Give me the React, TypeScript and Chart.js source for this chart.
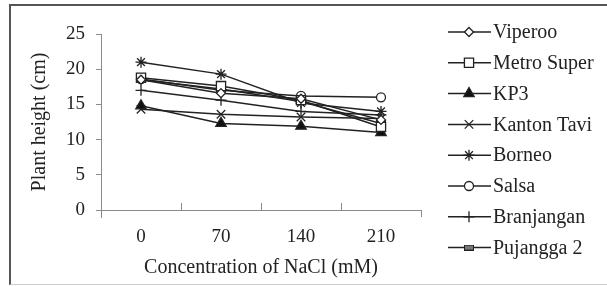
import React, { useEffect, useRef } from 'react';
import { Chart, registerables } from 'chart.js';
import { drawPoint } from 'chart.js/helpers';

Chart.register(...registerables);

const categories = ['0', '70', '140', '210'];
const seriesNames = ['Viperoo', 'Metro Super', 'KP3', 'Kanton Tavi', 'Borneo', 'Salsa', 'Branjangan', 'Pujangga 2'];
const viperoo = [18.5, 16.6, 15.8, 12.8];
const metroSuper = [18.8, 17.6, 15.6, 11.8];
const kp3 = [14.8, 12.3, 11.9, 11.0];
const kantonTavi = [14.3, 13.6, 13.2, 13.0];
const borneo = [21.0, 19.3, 15.2, 14.0];
const salsa = [18.6, 17.0, 16.2, 16.0];
const branjangan = [17.0, 15.6, 14.0, 13.5];
const pujangga2 = [18.5, 17.2, 15.4, 12.3];
const yTicks = [0, 5, 10, 15, 20, 25];

const FONT = "'Liberation Serif', 'Times New Roman', serif";
const INK = '#222';
const AXIS = '#8a8a8a';

function makeBarMarker() {
  const c = document.createElement('canvas');
  c.width = 10;
  c.height = 6;
  const g = c.getContext('2d')!;
  g.fillStyle = '#777';
  g.fillRect(0, 0, 10, 6);
  g.strokeStyle = '#222';
  g.lineWidth = 1;
  g.strokeRect(0.5, 0.5, 9, 5);
  return c;
}

const customPlugin = {
  id: 'customDecor',
  afterDraw(chart: any) {
    const ctx = chart.ctx;
    const area = chart.chartArea;
    const xs = chart.scales.x;
    ctx.save();
    ctx.strokeStyle = AXIS;
    ctx.lineWidth = 1;
    const step = xs.getPixelForValue(1) - xs.getPixelForValue(0);
    ctx.beginPath();
    for (let i = 1; i < categories.length; i++) {
      const px = Math.round(xs.getPixelForValue(i) - step / 2) + 0.5;
      ctx.moveTo(px, area.bottom);
      ctx.lineTo(px, area.bottom - 7);
    }
    const r = Math.round(area.right) + 0.5;
    ctx.moveTo(r, area.bottom);
    ctx.lineTo(r, area.bottom + 7);
    const l = Math.round(area.left) + 0.5;
    ctx.moveTo(l, area.bottom);
    ctx.lineTo(l, area.bottom + 8);
    ctx.stroke();

    // legend
    chart.data.datasets.forEach((ds: any, i: number) => {
      const y = 32 + i * 30.8;
      ctx.strokeStyle = INK;
      ctx.lineWidth = 1.5;
      ctx.beginPath();
      ctx.moveTo(448, y);
      ctx.lineTo(491, y);
      ctx.stroke();
      ctx.fillStyle = ds.pointBackgroundColor;
      ctx.strokeStyle = ds.pointBorderColor;
      ctx.lineWidth = ds.pointBorderWidth;
      drawPoint(ctx, { pointStyle: ds.pointStyle, radius: ds.pointRadius, rotation: 0, borderWidth: ds.pointBorderWidth }, 469, y);
      ctx.fillStyle = INK;
      ctx.font = `20px ${FONT}`;
      ctx.textBaseline = 'middle';
      ctx.textAlign = 'left';
      ctx.fillText(ds.label, 493, y + 1);
    });
    ctx.restore();
  },
};

export default function App() {
  const ref = useRef<HTMLCanvasElement>(null);
  useEffect(() => {
    const bar = makeBarMarker();
    const series = [viperoo, metroSuper, kp3, kantonTavi, borneo, salsa, branjangan, pujangga2];
    const styles: any[] = [
      { pointStyle: 'rectRot', pointRadius: 4.5, pointBackgroundColor: '#fff' },
      { pointStyle: 'rect', pointRadius: 6.5, pointBackgroundColor: '#fff' },
      { pointStyle: 'triangle', pointRadius: 6, pointBackgroundColor: '#111' },
      { pointStyle: 'crossRot', pointRadius: 6, pointBackgroundColor: '#fff' },
      { pointStyle: 'star', pointRadius: 5.5, pointBackgroundColor: '#fff' },
      { pointStyle: 'circle', pointRadius: 4.5, pointBackgroundColor: '#fff' },
      { pointStyle: 'cross', pointRadius: 5.5, pointBackgroundColor: '#fff' },
      { pointStyle: bar, pointRadius: 4, pointBackgroundColor: '#777' },
    ];
    const datasets = series.map((d, i) => ({
      label: seriesNames[i],
      data: d,
      borderColor: INK,
      borderWidth: 1.5,
      pointBorderColor: INK,
      pointBorderWidth: 1.3,
      pointHoverRadius: styles[i].pointRadius,
      ...styles[i],
    }));
    const chart = new Chart(ref.current!, {
      type: 'line',
      data: { labels: categories, datasets },
      options: {
        animation: false,
        responsive: false,
        maintainAspectRatio: false,
        layout: { padding: { left: 0, top: 34, right: 186, bottom: 0 } },
        plugins: { legend: { display: false }, tooltip: { enabled: false } },
        scales: {
          x: {
            type: 'category',
            offset: true,
            grid: { display: false, drawTicks: false },
            border: { display: true, color: AXIS, width: 1 },
            ticks: { color: INK, font: { family: FONT, size: 19 }, padding: 16, maxRotation: 0 },
            title: { display: true, text: 'Concentration of NaCl (mM)', color: INK, font: { family: FONT, size: 20 }, padding: { top: 0, bottom: 6 } },
            afterFit(s: any) { s.height = 76; },
          },
          y: {
            min: 0,
            max: 25,
            afterBuildTicks(s: any) { s.ticks = yTicks.map((v) => ({ value: v })); },
            grid: { display: true, drawOnChartArea: false, drawTicks: true, tickLength: 5, color: AXIS },
            border: { display: true, color: AXIS, width: 1 },
            ticks: { color: INK, font: { family: FONT, size: 19 }, padding: 11 },
            title: { display: true, text: 'Plant height (cm)', color: INK, font: { family: FONT, size: 20 }, padding: { top: 28, bottom: 0 } },
            afterFit(s: any) { s.width = 101; },
          },
        },
      },
      plugins: [customPlugin],
    });
    return () => chart.destroy();
  }, []);
  return (
    <div style={{ position: 'fixed', left: 0, top: 0, width: 607, height: 286, background: '#fff', overflow: 'hidden' }}>
      <div style={{ position: 'absolute', left: 9, top: 4, width: 610, height: 278, borderTop: '2px solid #555', borderLeft: '2px solid #555', borderBottom: '1px solid #ccc' }} />
      <canvas ref={ref} width={607} height={286} style={{ position: 'absolute', left: 0, top: 0, width: 607, height: 286 }} />
    </div>
  );
}
